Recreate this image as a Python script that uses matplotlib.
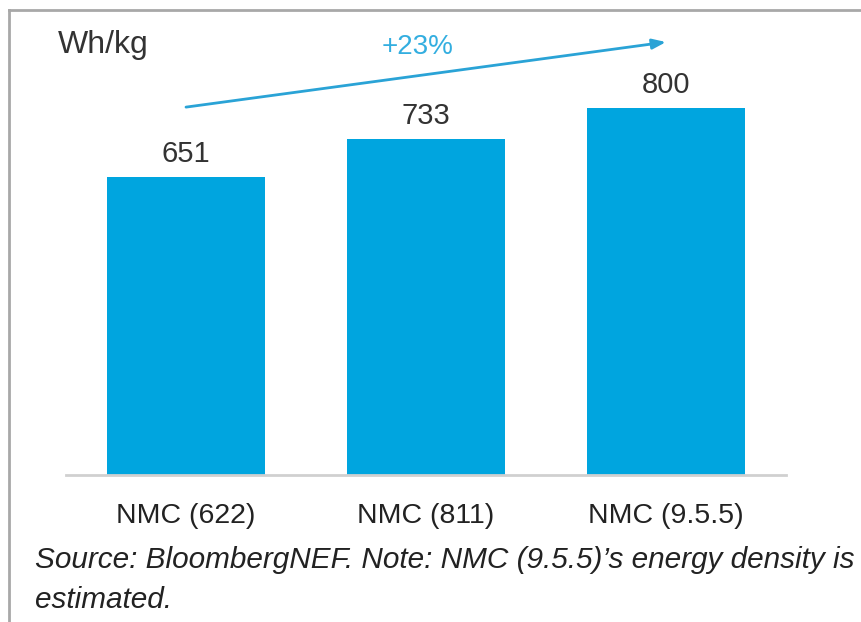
import matplotlib.pyplot as plt
from matplotlib.lines import Line2D

categories = ["NMC (622)", "NMC (811)", "NMC (9.5.5)"]
energy_density = [651, 733, 800]
growth_label = "+23%"
unit_label = "Wh/kg"
note = "Source: BloombergNEF. Note: NMC (9.5.5)\u2019s energy density is\nestimated."

W, H = 861, 622
bar_color = "#00a5df"
arrow_color = "#2aa3d6"
text_color = "#333333"

plt.rcParams["font.family"] = ["Liberation Sans", "DejaVu Sans"]

fig = plt.figure(figsize=(W / 100, H / 100), dpi=100)

# plot area in pixel terms: baseline at y=475 from top, x from 66 to 786
ax = fig.add_axes([66 / W, (H - 475) / H, 720 / W, 465 / H])
x = range(len(categories))
bars = ax.bar(x, energy_density, width=0.66, color=bar_color)
ax.set_xlim(-0.5, 2.5)
ax.set_ylim(0, 1015)
ax.set_yticks([])
ax.set_xticks([])
for s in ["top", "right", "left"]:
    ax.spines[s].set_visible(False)
ax.spines["bottom"].set_color("#d0d0d0")
ax.spines["bottom"].set_linewidth(2)

for i, v in enumerate(energy_density):
    ax.text(i, v + 20, str(v), ha="center", va="bottom", fontsize=21, color=text_color)
    ax.text(i, -90, categories[i], ha="center", va="center", fontsize=20.5, color="#222222")

# growth arrow between first and last bar
ax.annotate("", xy=(2.0, 945), xytext=(0.0, 803),
            arrowprops=dict(arrowstyle="-|>,head_length=0.8,head_width=0.3",
                            color=arrow_color, lw=2, shrinkA=0, shrinkB=0))
ax.text(0.963, 934, growth_label, ha="center", va="center", fontsize=20, color="#33aee0")

fig.text(58 / W, 1 - 45 / H, unit_label, ha="left", va="center", fontsize=23, color=text_color)

fig.text(35 / W, 1 - 580 / H, note, ha="left", va="center", fontsize=21.4,
         style="italic", color="#222222", linespacing=1.5)

# outer frame
fig.add_artist(Line2D([9 / W, 9 / W], [0, 1 - 10 / H], color="#a8a8a8", lw=2))
fig.add_artist(Line2D([9 / W, 1], [1 - 10 / H, 1 - 10 / H], color="#a8a8a8", lw=2))

fig.savefig("out.png", dpi=100)
